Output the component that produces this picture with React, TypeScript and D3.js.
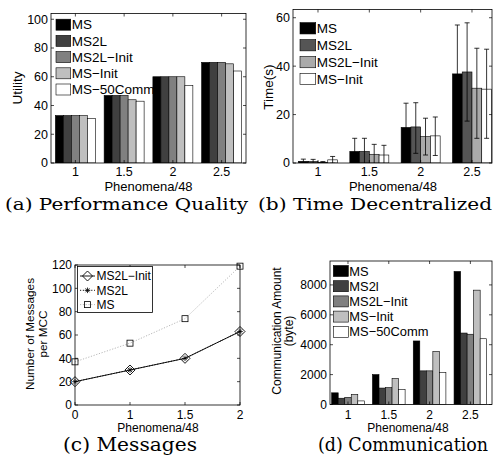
import React, { useEffect, useRef } from 'react';
import * as d3 from 'd3';

const FONT = '"Liberation Sans", Arial, Helvetica, sans-serif';
const SERIF = '"DejaVu Serif", "Liberation Serif", serif';

const groups = [1, 2, 3, 4];
const groupLabels = ['1', '1.5', '2', '2.5'];

// (a) performance quality
const utilityNames = ['MS', 'MS2L', 'MS2L−Init', 'MS−Init', 'MS−50Comm'];
const utilityMS = [33, 47, 60, 70];
const utilityMS2L = [33, 47, 60, 70];
const utilityMS2LInit = [33, 47, 60, 70];
const utilityMSInit = [33, 44, 60, 69];
const utilityMS50Comm = [31, 43, 54, 64];
const utilityTicks = [0, 20, 40, 60, 80, 100];

// (b) time decentralized, with error bars (below / above)
const timeNames = ['MS', 'MS2L', 'MS2L−Init', 'MS−Init'];
const timeMS = [0.7, 4.8, 14.7, 36.8];
const timeMS2L = [0.6, 4.8, 14.9, 37.6];
const timeMS2LInit = [0.3, 3.6, 10.9, 30.9];
const timeMSInit = [1.3, 3.3, 11.2, 30.5];
const timeErrLowMS = [0.9, 5.4, 10, 20.2];
const timeErrLowMS2L = [0.9, 5.4, 10.9, 20.3];
const timeErrLowMS2LInit = [0.3, 4.1, 7.6, 20.7];
const timeErrLowMSInit = [1.4, 4, 8.1, 20.3];
const timeErrHighMS = [0.9, 5.4, 10, 20.2];
const timeErrHighMS2L = [0.9, 5.4, 10, 20.3];
const timeErrHighMS2LInit = [0.3, 4.1, 7.6, 16.5];
const timeErrHighMSInit = [1.4, 4, 7.8, 16.5];
const timeTicks = [0, 20, 40, 60];

// (c) messages per MCC
const messageLabels = ['0', '1', '1.5', '2'];
const messagesMS2LInit = [20, 30, 40, 63];
const messagesMS2L = [20, 30, 40, 63];
const messagesMS = [37, 53, 74, 119];
const messageTicks = [0, 20, 40, 60, 80, 100, 120];

// (d) communication amount
const commNames = ['MS', 'MS2l', 'MS2L−Init', 'MS−Init', 'MS−50Comm'];
const commMS = [780, 2000, 4250, 8900];
const commMS2l = [420, 1100, 2250, 4780];
const commMS2LInit = [480, 1130, 2250, 4700];
const commMSInit = [680, 1750, 3550, 7650];
const commMS50Comm = [240, 1000, 2150, 4400];
const commTicks = [0, 2000, 4000, 6000, 8000];

const gray5 = ['#000000', '#404040', '#808080', '#bfbfbf', '#ffffff'];
const gray4 = ['#000000', '#555555', '#aaaaaa', '#ffffff'];

function drawFrame(g, x, y, left, right, top, bottom, xTicks, yTicks, xLabels, yFmt, font, xLabelBase) {
  const t = 3;
  g.append('rect').attr('x', left).attr('y', top).attr('width', right - left).attr('height', bottom - top)
    .attr('fill', 'none').attr('stroke', '#000').attr('stroke-width', 0.8);
  yTicks.forEach(v => {
    g.append('line').attr('x1', left).attr('x2', left + t).attr('y1', y(v)).attr('y2', y(v)).attr('stroke', '#000').attr('stroke-width', 0.7);
    g.append('line').attr('x1', right).attr('x2', right - t).attr('y1', y(v)).attr('y2', y(v)).attr('stroke', '#000').attr('stroke-width', 0.7);
    g.append('text').attr('x', left - 3).attr('y', y(v)).attr('dy', '0.35em').attr('text-anchor', 'end')
      .attr('font-family', FONT).attr('font-size', font).text(yFmt(v));
  });
  xTicks.forEach((v, i) => {
    g.append('line').attr('x1', x(v)).attr('x2', x(v)).attr('y1', bottom).attr('y2', bottom - t).attr('stroke', '#000').attr('stroke-width', 0.7);
    g.append('line').attr('x1', x(v)).attr('x2', x(v)).attr('y1', top).attr('y2', top + t).attr('stroke', '#000').attr('stroke-width', 0.7);
    g.append('text').attr('x', x(v)).attr('y', xLabelBase).attr('text-anchor', 'middle')
      .attr('font-family', FONT).attr('font-size', font).text(xLabels[i]);
  });
}

function drawLabels(g, yLines, yCenter, yFont, xText, xCenter, xBase, xFont) {
  yLines.forEach(([txt, cx]) => {
    g.append('text').attr('transform', `translate(${cx},${yCenter}) rotate(-90)`).attr('dy', '0.35em')
      .attr('text-anchor', 'middle').attr('font-family', FONT).attr('font-size', yFont).text(txt);
  });
  g.append('text').attr('x', xCenter).attr('y', xBase).attr('text-anchor', 'middle')
    .attr('font-family', FONT).attr('font-size', xFont).text(xText);
}

function drawBarPanel(svg, c) {
  const g = svg.append('g');
  const x = d3.scaleLinear().domain(c.xDomain).range([c.left, c.right]);
  const y = d3.scaleLinear().domain([0, c.yMax]).range([c.bottom, c.top]);
  const gw = (x(2) - x(1)) * c.groupFrac;
  const bw = gw / c.series.length;
  const clip = 'clip-' + c.id;
  g.append('clipPath').attr('id', clip).append('rect')
    .attr('x', c.left).attr('y', c.top).attr('width', c.right - c.left).attr('height', c.bottom - c.top);
  const plot = g.append('g').attr('clip-path', `url(#${clip})`);

  c.series.forEach((vals, s) => {
    plot.selectAll(null).data(vals).enter().append('rect')
      .attr('x', (v, i) => x(groups[i]) - gw / 2 + s * bw)
      .attr('y', v => y(v))
      .attr('width', bw)
      .attr('height', v => y(0) - y(v))
      .attr('fill', c.colors[s]).attr('stroke', '#000').attr('stroke-width', 0.6);
  });

  if (c.errLow) {
    c.series.forEach((vals, s) => {
      vals.forEach((v, i) => {
        const cx = x(groups[i]) - gw / 2 + (s + 0.5) * bw;
        const lo = y(v - c.errLow[s][i]);
        const hi = y(v + c.errHigh[s][i]);
        const cap = 2.5;
        plot.append('line').attr('x1', cx).attr('x2', cx).attr('y1', lo).attr('y2', hi).attr('stroke', '#000').attr('stroke-width', 0.8);
        plot.append('line').attr('x1', cx - cap).attr('x2', cx + cap).attr('y1', hi).attr('y2', hi).attr('stroke', '#000').attr('stroke-width', 0.8);
        plot.append('line').attr('x1', cx - cap).attr('x2', cx + cap).attr('y1', lo).attr('y2', lo).attr('stroke', '#000').attr('stroke-width', 0.8);
      });
    });
  }

  drawFrame(g, x, y, c.left, c.right, c.top, c.bottom, groups, c.yTicks, groupLabels, d => String(d), c.tickFont, c.xTickBase);

  c.names.forEach((name, i) => {
    const ly = c.legend.y0 + i * c.legend.dy;
    g.append('rect').attr('x', c.legend.x).attr('y', ly - c.legend.h / 2).attr('width', c.legend.w).attr('height', c.legend.h)
      .attr('fill', c.colors[i]).attr('stroke', '#000').attr('stroke-width', 0.6);
    g.append('text').attr('x', c.legend.x + c.legend.w + 1).attr('y', ly).attr('dy', '0.35em')
      .attr('font-family', FONT).attr('font-size', c.legend.font).text(name);
  });

  drawLabels(g, c.yLabel, c.yLabelY, c.yLabelFont, 'Phenomena/48', c.xLabelX, c.xLabelBase, c.xLabelFont);
}

function marker(g, type, cx, cy) {
  if (type === 'diamond') {
    g.append('path').attr('d', `M${cx},${cy - 5}L${cx + 5},${cy}L${cx},${cy + 5}L${cx - 5},${cy}Z`)
      .attr('fill', 'none').attr('stroke', '#000').attr('stroke-width', 0.9);
  } else if (type === 'square') {
    g.append('rect').attr('x', cx - 3).attr('y', cy - 3).attr('width', 6).attr('height', 6)
      .attr('fill', 'none').attr('stroke', '#000').attr('stroke-width', 0.8);
  } else {
    const r = 2.8;
    g.append('path').attr('d', `M${cx - r},${cy}H${cx + r}M${cx},${cy - r}V${cy + r}M${cx - 2},${cy - 2}L${cx + 2},${cy + 2}M${cx - 2},${cy + 2}L${cx + 2},${cy - 2}`)
      .attr('stroke', '#000').attr('stroke-width', 0.8);
  }
}

function drawMessages(svg) {
  const left = 75, right = 240, top = 265, bottom = 405;
  const g = svg.append('g');
  const x = d3.scalePoint().domain(messageLabels).range([left, right]);
  const y = d3.scaleLinear().domain([0, 120]).range([bottom, top]);
  const line = d3.line<number>().x((d, i) => x(messageLabels[i])).y(d => y(d));

  const lines = [
    { vals: messagesMS, stroke: '#b0b0b0', dash: '1.2,1.6', m: 'square' },
    { vals: messagesMS2L, stroke: '#000', dash: '1.2,1.6', m: 'star' },
    { vals: messagesMS2LInit, stroke: '#000', dash: null, m: 'diamond' },
  ];
  lines.forEach(l => {
    g.append('path').attr('d', line(l.vals)).attr('fill', 'none').attr('stroke', l.stroke)
      .attr('stroke-width', 0.9).attr('stroke-dasharray', l.dash);
    l.vals.forEach((v, i) => marker(g, l.m, x(messageLabels[i]), y(v)));
  });

  drawFrame(g, x, y, left, right, top, bottom, messageLabels, messageTicks, messageLabels, d => String(d), 12, 419);

  // legend
  g.append('rect').attr('x', 77.5).attr('y', 266.5).attr('width', 75).attr('height', 46)
    .attr('fill', '#fff').attr('stroke', '#000').attr('stroke-width', 0.8);
  const entries = [
    { name: 'MS2L−Init', stroke: '#000', dash: null, m: 'diamond' },
    { name: 'MS2L', stroke: '#000', dash: '1.2,1.6', m: 'star' },
    { name: 'MS', stroke: '#b0b0b0', dash: '1.2,1.6', m: 'square' },
  ];
  entries.forEach((e, i) => {
    const ly = 276 + i * 14.3;
    g.append('line').attr('x1', 80).attr('x2', 95).attr('y1', ly).attr('y2', ly).attr('stroke', e.stroke)
      .attr('stroke-width', 0.9).attr('stroke-dasharray', e.dash);
    marker(g, e.m, 87.5, ly);
    g.append('text').attr('x', 96.5).attr('y', ly).attr('dy', '0.35em').attr('font-family', FONT)
      .attr('font-size', 12).text(e.name);
  });

  drawLabels(g, [['Number of Messages', 30], ['per MCC', 43]], 334, 11.8, 'Phenomena/48', 158, 431.5, 12);
}

function caption(svg, txt, x, base, len, size) {
  svg.append('text').attr('x', x).attr('y', base).attr('font-family', SERIF).attr('font-size', size)
    .attr('textLength', len).attr('lengthAdjust', 'spacingAndGlyphs').text(txt);
}

const App = () => {
  const ref = useRef(null);

  useEffect(() => {
    const svg = d3.select(ref.current);
    svg.selectAll('*').remove();

    drawBarPanel(svg, {
      id: 'a', left: 51, right: 246, top: 13.5, bottom: 163, xDomain: [0.5, 4.5], yMax: 104,
      yTicks: utilityTicks, groupFrac: 0.82, tickFont: 12.5, xTickBase: 175.5,
      series: [utilityMS, utilityMS2L, utilityMS2LInit, utilityMSInit, utilityMS50Comm],
      names: utilityNames, colors: gray5,
      legend: { x: 56, y0: 24.7, dy: 16.2, w: 14.7, h: 11, font: 13.5 },
      yLabel: [['Utility', 17]], yLabelY: 88, yLabelFont: 13.5,
      xLabelX: 148.5, xLabelBase: 191, xLabelFont: 13,
    });

    drawBarPanel(svg, {
      id: 'b', left: 293, right: 492, top: 9.5, bottom: 163, xDomain: [0.513, 4.39], yMax: 63.4,
      yTicks: timeTicks, groupFrac: 0.76, tickFont: 12.5, xTickBase: 175.5,
      series: [timeMS, timeMS2L, timeMS2LInit, timeMSInit],
      errLow: [timeErrLowMS, timeErrLowMS2L, timeErrLowMS2LInit, timeErrLowMSInit],
      errHigh: [timeErrHighMS, timeErrHighMS2L, timeErrHighMS2LInit, timeErrHighMSInit],
      names: timeNames, colors: gray4,
      legend: { x: 300, y0: 28.3, dy: 16.9, w: 15.7, h: 11.3, font: 13.5 },
      yLabel: [['Time(s)', 268.3]], yLabelY: 87, yLabelFont: 13.5,
      xLabelX: 393, xLabelBase: 191, xLabelFont: 13,
    });

    drawMessages(svg);

    drawBarPanel(svg, {
      id: 'd', left: 330, right: 492, top: 261, bottom: 404.5, xDomain: [0.559, 4.53], yMax: 9600,
      yTicks: commTicks, groupFrac: 0.8, tickFont: 12, xTickBase: 418.5,
      series: [commMS, commMS2l, commMS2LInit, commMSInit, commMS50Comm],
      names: commNames, colors: gray5,
      legend: { x: 333.3, y0: 271, dy: 15.2, w: 15, h: 11, font: 12.9 },
      yLabel: [['Communication Amount', 276.7], ['(byte)', 288.3]], yLabelY: 331, yLabelFont: 12,
      xLabelX: 408, xLabelBase: 431.5, xLabelFont: 12,
    });

    caption(svg, '(a) Performance Quality', 5, 210, 243, 16);
    caption(svg, '(b) Time Decentralized', 258, 210, 234, 16);
    caption(svg, '(c) Messages', 63, 450.5, 134, 18);
    caption(svg, '(d) Communication', 318, 450.5, 170, 18);
  }, []);

  return (
    <svg ref={ref} width={493} height={466}
      style={{ position: 'absolute', left: 0, top: 0, background: '#fff' }} />
  );
};

export default App;
